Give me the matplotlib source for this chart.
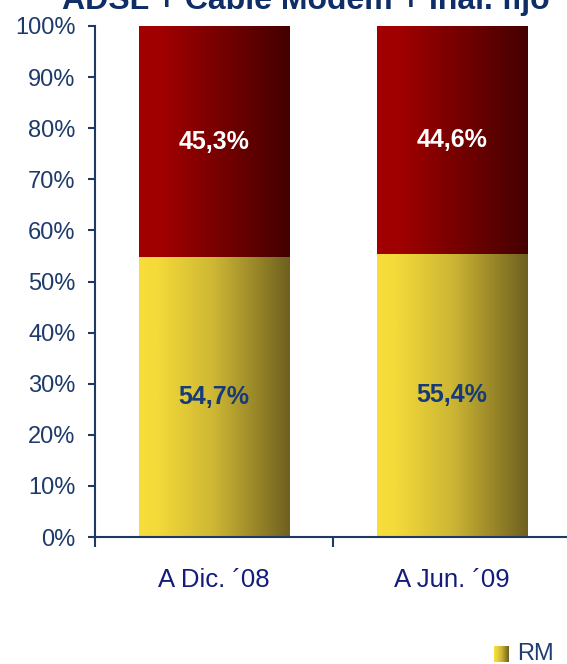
import numpy as np
import matplotlib
matplotlib.use("Agg")
import matplotlib.pyplot as plt
from matplotlib.colors import LinearSegmentedColormap

categories = ["A Dic. \u00b408", "A Jun. \u00b409"]
rm_values = [54.7, 55.4]
other_values = [45.3, 44.6]
rm_labels = ["54,7%", "55,4%"]
other_labels = ["45,3%", "44,6%"]
yticks = list(range(0, 101, 10))
ytick_labels = [f"{v}%" for v in yticks]
title = "ADSL + Cable Modem + Inal. fijo"
legend_label = "RM"

plt.rcParams['font.family'] = ['Liberation Sans', 'DejaVu Sans']

W, H = 567, 664
fig = plt.figure(figsize=(W / 100, H / 100), dpi=100)
ax_left, ax_bottom, ax_top = 95, 537, 26
ax_w = 2 * 238
ax = fig.add_axes([ax_left / W, (H - ax_bottom) / H, ax_w / W, (ax_bottom - ax_top) / H])

yellow_cmap = LinearSegmentedColormap.from_list(
    "yel", [(0.0, (247/255, 222/255, 58/255)), (0.12, (244/255, 218/255, 58/255)),
            (0.5, (205/255, 182/255, 52/255)), (1.0, (110/255, 96/255, 32/255))])
red_cmap = LinearSegmentedColormap.from_list(
    "red", [(0.0, (163/255, 0, 0)), (0.15, (160/255, 0, 0)), (1.0, (68/255, 0, 0))])

x = np.arange(len(categories))
bw = 0.634
b1 = ax.bar(x, rm_values, width=bw, color='none', edgecolor='none')
b2 = ax.bar(x, other_values, width=bw, bottom=rm_values, color='none', edgecolor='none')

grad = np.linspace(0, 1, 256).reshape(1, -1)
for bars, cmap in ((b1, yellow_cmap), (b2, red_cmap)):
    for p in bars:
        x0, y0 = p.get_x(), p.get_y()
        ax.imshow(grad, cmap=cmap, aspect='auto', interpolation='bilinear',
                  extent=(x0, x0 + p.get_width(), y0, y0 + p.get_height()), zorder=2)

for i in range(len(categories)):
    ax.text(x[i], rm_values[i] / 2, rm_labels[i], ha='center', va='center',
            fontsize=18, fontweight='bold', color='#173A78', zorder=3)
    ax.text(x[i], rm_values[i] + other_values[i] / 2, other_labels[i], ha='center', va='center',
            fontsize=18, fontweight='bold', color='white', zorder=3)

ax.set_xlim(-0.5, 1.5)
ax.set_ylim(0, 100)
ax.set_yticks(yticks)
ax.set_yticklabels(ytick_labels)
ax.set_xticks(x)
ax.set_xticklabels(categories)
ax.set_xticks([-0.5, 0.5], minor=True)

spine_color = '#1F3864'
for s in ('top', 'right'):
    ax.spines[s].set_visible(False)
for s in ('left', 'bottom'):
    ax.spines[s].set_color(spine_color)
    ax.spines[s].set_linewidth(1.5)
ax.spines['bottom'].set_bounds(-0.5, 1.6)
ax.tick_params(axis='y', direction='out', length=5, width=1.5, color=spine_color,
               labelsize=17, labelcolor='#1E3A6B', pad=9)
ax.tick_params(axis='x', which='major', length=0, labelsize=18.5, labelcolor='#141C7A', pad=22)
ax.tick_params(axis='x', which='minor', direction='out', length=7, width=1.5, color=spine_color)
ax.set_clip_on(False)
for sp in ax.spines.values():
    sp.set_clip_on(False)

fig.text(306 / W, 1 - 9 / H, title, ha='center', va='baseline', fontsize=23,
         fontweight='bold', color='#0F2D66')

# legend
lax = fig.add_axes([494 / W, (H - 662) / H, 15 / W, 16 / H])
lax.imshow(grad, cmap=yellow_cmap, aspect='auto', extent=(0, 1, 0, 1))
lax.set_axis_off()
fig.text(517 / W, (H - 654) / H, legend_label, ha='left', va='center', fontsize=17, color='#1F3C73')

fig.savefig("out.png", dpi=100)
